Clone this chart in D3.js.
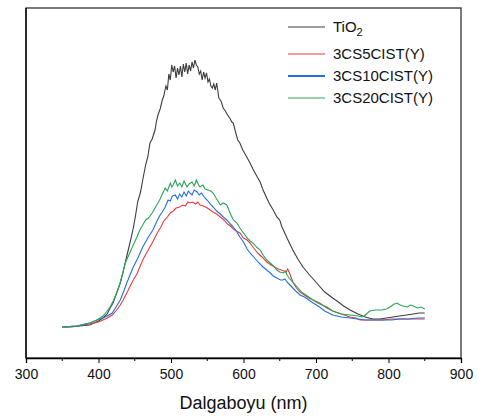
<!DOCTYPE html>
<html>
<head>
<meta charset="utf-8">
<script src="https://cdn.jsdelivr.net/npm/d3@7"></script>
<style>
body { margin: 0; background: #fff; }
svg text { font-family: "Liberation Sans", Arial, sans-serif; }
</style>
</head>
<body>
<div class="chart"></div>
<script>
// wavelength (nm), intensity (a.u.)
var tio2 = [
    [350,31],[362,31],[374,32],[388,33],[400,37],[406,40],[412,44],[416,50],[420,55],[425,65],
    [430,75],[434,86],[437,96],[441,108],[444,117],[448,130],[451,142],[454,156],[458,166],[461,178],
    [465,193],[468,201],[471,215],[474,219],[478,228],[480,237],[482,243],[485,249],[488,258],[490,262],
    [493,272],[495,268],[497,284],[499,278],[501,293],[503,286],[505,292],[507,280],[509,290],[511,283],
    [513,292],[515,281],[517,294],[519,286],[521,295],[523,284],[525,293],[527,287],[529,296],[531,290],
    [533,298],[535,293],[537,291],[539,284],[541,287],[543,278],[545,286],[547,280],[549,285],[551,276],
    [553,279],[555,272],[557,270],[559,274],[561,268],[563,275],[566,260],[569,257],[572,250],[575,247],
    [578,243],[581,240],[584,236],[586,235],[589,226],[592,218],[595,215],[599,208],[603,203],[606,199],
    [609,195],[613,189],[616,185],[619,181],[623,176],[627,168],[632,160],[636,154],[641,148],[646,141],
    [650,138],[653,131],[655,128],[660,120],[664,114],[668,108],[675,99],[682,91],[690,84],[701,75],
    [712,66],[723,60],[729,57],[738,52],[747,48],[758,44],[768,41],[778,39],[788,39],[797,40],
    [806,41],[815,42],[825,43],[834,44],[842,45],[850,45]
];

var cs5 = [
    [350,31],[370,32],[388,34],[400,36],[406,38],[412,40],[419,43],[425,48],[430,53],[434,58],
    [439,65],[443,71],[448,78],[453,84],[457,91],[461,98],[467,106],[474,115],[481,125],[486,131],
    [490,137],[495,141],[499,145],[503,147],[507,150],[512,151],[516,153],[520,152],[523,156],[526,155],
    [530,156],[534,154],[537,156],[540,153],[545,152],[550,150],[554,148],[558,146],[563,144],[568,141],
    [573,138],[578,134],[582,132],[586,129],[590,127],[595,125],[600,120],[605,118],[609,115],[615,109],
    [621,104],[627,100],[632,96],[638,93],[643,91],[648,89],[652,88],[656,87],[659,86],[661,89],
    [664,84],[668,76],[673,70],[678,66],[684,63],[690,60],[696,58],[705,55],[715,50],[723,47],
    [735,44],[747,41],[755,40],[761,38],[770,38],[780,38],[792,38],[804,39],[816,39],[828,39],
    [840,39],[850,39]
];

var cs10 = [
    [350,31],[370,32],[388,35],[398,38],[406,40],[412,42],[419,45],[425,52],[430,58],[435,67],
    [439,75],[444,84],[448,91],[455,101],[461,111],[468,120],[475,128],[480,136],[485,143],[488,146],
    [492,151],[496,158],[499,157],[502,162],[506,163],[509,159],[512,164],[515,161],[518,166],[521,162],
    [524,167],[526,165],[529,163],[532,168],[536,166],[539,163],[542,165],[547,160],[551,157],[554,154],
    [558,151],[563,147],[568,144],[572,141],[577,138],[582,134],[586,131],[591,126],[595,121],[600,116],
    [605,109],[609,105],[613,102],[620,96],[627,91],[632,88],[637,85],[641,82],[646,80],[651,78],
    [654,78],[657,79],[660,76],[664,73],[668,70],[672,67],[678,63],[684,61],[688,59],[696,55],
    [705,51],[712,47],[723,43],[735,41],[747,40],[757,39],[768,38],[780,38],[792,38],[804,38],
    [816,39],[828,39],[840,40],[850,40]
];

var cs20 = [
    [350,31],[370,32],[388,35],[398,38],[406,42],[411,46],[416,51],[421,58],[425,65],[429,73],
    [432,81],[437,95],[443,105],[448,113],[453,121],[457,128],[461,133],[465,138],[469,140],[474,145],
    [478,150],[482,155],[485,159],[488,164],[492,170],[495,167],[499,175],[501,171],[503,173],[506,178],
    [509,172],[512,175],[515,171],[518,177],[522,171],[525,174],[529,176],[532,172],[535,178],[538,173],
    [540,171],[544,173],[547,169],[551,168],[555,167],[558,165],[563,159],[568,153],[572,155],[577,153],
    [582,144],[586,138],[591,135],[595,130],[601,124],[605,120],[609,117],[613,115],[618,111],[623,108],
    [627,103],[632,98],[637,95],[641,92],[646,88],[650,86],[655,85],[658,87],[660,83],[664,79],
    [668,76],[674,71],[680,66],[686,63],[692,60],[700,56],[708,53],[715,51],[723,47],[735,44],
    [747,43],[758,42],[765,41],[768,43],[774,47],[782,48],[791,48],[797,49],[802,51],[808,54],
    [812,55],[816,53],[820,52],[826,51],[830,53],[834,52],[840,50],[845,51],[850,49]
];

var seriesNames = ["TiO2", "3CS5CIST(Y)", "3CS10CIST(Y)", "3CS20CIST(Y)"];
var seriesColors = ["#3d3d3d", "#ee3a3a", "#2270e0", "#2aa45c"];
var xTicks = [300, 400, 500, 600, 700, 800, 900];
var xMinorTicks = [350, 450, 550, 650, 750, 850];

function makeChart(width, height) {
    var margin = {left: 26, right: 17, top: 8, bottom: 58};

    var x = d3.scaleLinear()
        .domain([300, 900])
        .range([margin.left, width - margin.right]);

    var y = d3.scaleLinear()
        .domain([0, 350])
        .range([height - margin.bottom, margin.top]);

    var svg = d3.select(".chart").append("svg")
        .attr("width", width)
        .attr("height", height);

    // frame
    svg.append("rect")
        .attr("x", x(300))
        .attr("y", y(350))
        .attr("width", x(900) - x(300))
        .attr("height", y(0) - y(350))
        .attr("fill", "none")
        .attr("stroke", "#333")
        .attr("stroke-width", 1.3);

    var line = d3.line()
        .x(function(d){ return x(d[0]); })
        .y(function(d){ return y(d[1]); });

    var all = [tio2, cs5, cs10, cs20];
    all.forEach(function(s, i){
        svg.append("path")
            .datum(s)
            .attr("d", line)
            .attr("fill", "none")
            .attr("stroke", seriesColors[i])
            .attr("stroke-width", 1.1);
    });

    var xAxis = svg.append("g")
        .attr("transform", "translate(0," + y(0) + ")")
        .call(d3.axisBottom(x).tickValues(xTicks).tickSize(5).tickPadding(6));
    xAxis.select(".domain").attr("stroke", "#000").attr("stroke-width", 1.3);
    xAxis.selectAll(".tick line").attr("stroke", "#000");
    xAxis.selectAll("text")
        .attr("font-size", 14)
        .attr("fill", "#111")
        .attr("font-family", "Liberation Sans, Arial, sans-serif");

    svg.append("g")
        .selectAll("line")
        .data(xMinorTicks)
        .enter()
        .append("line")
        .attr("x1", function(d){ return x(d); })
        .attr("x2", function(d){ return x(d); })
        .attr("y1", y(0))
        .attr("y2", y(0) + 3)
        .attr("stroke", "#000");

    svg.append("line")
        .attr("x1", x(300)).attr("x2", x(300))
        .attr("y1", y(0)).attr("y2", y(350))
        .attr("stroke", "#000").attr("stroke-width", 1.3);

    svg.append("text")
        .attr("x", (x(300) + x(900)) / 2 + 0)
        .attr("y", height - 7)
        .attr("text-anchor", "middle")
        .attr("font-size", 18)
        .attr("fill", "#111")
        .text("Dalgaboyu (nm)");

    // legend
    var legendY = [27, 54, 76, 98];
    var legend = svg.append("g");
    seriesNames.forEach(function(name, i){
        legend.append("line")
            .attr("x1", 288).attr("x2", 325)
            .attr("y1", legendY[i]).attr("y2", legendY[i])
            .attr("stroke", seriesColors[i])
            .attr("stroke-width", i == 2 ? 2 : 1.2);
        var t = legend.append("text")
            .attr("x", 333)
            .attr("y", legendY[i] + 5)
            .attr("font-size", 15)
            .attr("fill", "#111");
        if (i == 0) {
            t.append("tspan").text("TiO");
            t.append("tspan").attr("dy", 4).attr("font-size", 11).text("2");
        } else {
            t.text(name);
        }
    });
}

window.onload = function(){
    makeChart(478, 416);
};
</script>
</body>
</html>
